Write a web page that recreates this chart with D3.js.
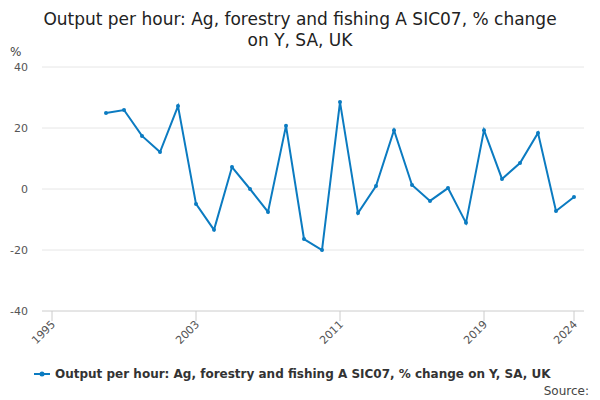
<!DOCTYPE html>
<html><head><meta charset="utf-8">
<script src="https://cdn.jsdelivr.net/npm/d3@7"></script>
<style>body{margin:0;font-family:"DejaVu Sans",sans-serif;}</style>
</head><body><div id="chart"></div>
<script>
const years = [1998,1999,2000,2001,2002,2003,2004,2005,2006,2007,2008,2009,2010,2011,2012,2013,2014,2015,2016,2017,2018,2019,2020,2021,2022,2023,2024];
const values = [24.9,25.9,17.4,12.1,27.2,-4.9,-13.4,7.2,0,-7.5,20.7,-16.4,-20,28.5,-7.9,1,19.3,1.3,-3.9,0.3,-11.1,19.3,3.3,8.5,18.4,-7.2,-2.6];
const xTicks = [1995,2003,2011,2019,2024];
const yTicks = [-40,-20,0,20,40];
const seriesName = "Output per hour: Ag, forestry and fishing A SIC07, % change on Y, SA, UK";

let width = 600, height = 400;
let svg = d3.select("#chart").append("svg").attr("width", width).attr("height", height);

svg.append("text").attr("x", 300).attr("y", 25).attr("text-anchor", "middle")
  .attr("font-size", 17).attr("fill", "#222").text("Output per hour: Ag, forestry and fishing A SIC07, % change");
svg.append("text").attr("x", 300).attr("y", 46).attr("text-anchor", "middle")
  .attr("font-size", 17).attr("fill", "#222").text("on Y, SA, UK");

let x = d3.scaleLinear().domain([1995, 2024]).range([52, 574]);
let y = d3.scaleLinear().domain([-40, 40]).range([311, 67]);

// grid
svg.append("g").selectAll("line").data(yTicks).enter().append("line")
  .attr("x1", 42).attr("x2", 584).attr("y1", d => y(d)).attr("y2", d => y(d))
  .attr("stroke", d => d === -40 ? "#ccc" : "#e6e6e6");

svg.append("g").selectAll("text").data(yTicks).enter().append("text")
  .attr("x", 28).attr("y", d => y(d) + 4).attr("text-anchor", "end")
  .attr("font-size", 11).attr("fill", "#555").text(d => d);
svg.append("text").attr("x", 10).attr("y", 56).attr("font-size", 12).attr("fill", "#444").text("%");

// x ticks
let xg = svg.append("g").selectAll("g").data(xTicks).enter().append("g");
xg.append("line").attr("x1", d => x(d)).attr("x2", d => x(d)).attr("y1", 311).attr("y2", 321).attr("stroke", "#ccc");
xg.append("text").attr("transform", d => `translate(${x(d) + 4},${325}) rotate(-45)`)
  .attr("text-anchor", "end").attr("font-size", 11).attr("fill", "#555").text(d => d);

// line
let line = d3.line().x((d, i) => x(years[i])).y(d => y(d));
svg.append("path").datum(values).attr("d", line).attr("fill", "none")
  .attr("stroke", "#0b7bc1").attr("stroke-width", 2);
svg.append("g").selectAll("circle").data(values).enter().append("circle")
  .attr("cx", (d, i) => x(years[i])).attr("cy", d => y(d)).attr("r", 2).attr("fill", "#0b7bc1");

// legend
svg.append("line").attr("x1", 34).attr("x2", 50).attr("y1", 374).attr("y2", 374).attr("stroke", "#0b7bc1").attr("stroke-width", 2);
svg.append("circle").attr("cx", 42).attr("cy", 374).attr("r", 2.5).attr("fill", "#0b7bc1");
svg.append("text").attr("x", 55).attr("y", 378).attr("font-size", 12).attr("font-weight", "bold").attr("fill", "#333").text(seriesName);
svg.append("text").attr("x", 589).attr("y", 395).attr("text-anchor", "end").attr("font-size", 12).attr("fill", "#444").text("Source:");
</script></body></html>
